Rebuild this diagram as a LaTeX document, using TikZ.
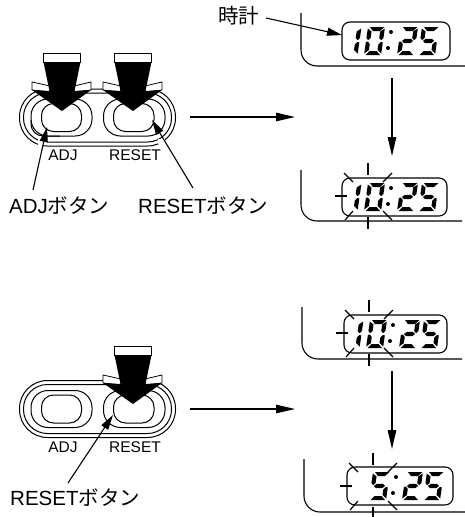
\documentclass[tikz,border=0pt]{standalone}
\usepackage{fontspec}
\setmainfont{Liberation Sans}
\newfontfamily\jpfont{Noto Sans CJK JP}
\usetikzlibrary{arrows.meta}
\tikzset{
  ln/.style={line width=1.1pt,black},
  disp/.style={draw,line width=1.1pt,rounded corners=8pt,inner sep=0pt,fill=white},
  lead/.style={line width=1.1pt,-{Triangle[length=15pt,width=8pt]}},
  flow/.style={line width=1.1pt,-{Triangle[length=19pt,width=8.5pt]}},
  biglabel/.style={inner sep=0pt,anchor=west,font=\fontsize{20.5}{24}\selectfont},
  smalllabel/.style={inner sep=0pt,font=\fontsize{15.5}{18}\selectfont},
  panelline/.style={line width=1pt}
}
% seven-segment parts (local frame: bottom-left origin, up is negative y)
\newcommand{\segA}{\fill (2,-28)--(16.5,-28)--(12.5,-24)--(5.5,-24)--cycle;}
\newcommand{\segB}{\fill (17,-26.5)--(17,-17)--(15,-14.8)--(12.8,-17)--(12.8,-23.5)--cycle;}
\newcommand{\segC}{\fill (17,-12.5)--(17,-1.5)--(12.8,-5)--(12.8,-10.5)--(15,-13)--cycle;}
\newcommand{\segD}{\fill (1.5,0)--(16,0)--(12,-4)--(5,-4)--cycle;}
\newcommand{\segE}{\fill (0,-13)--(2,-13.5)--(4.2,-11)--(4.2,-5)--(0,-1.5)--cycle;}
\newcommand{\segF}{\fill (0,-26.5)--(4.2,-23.5)--(4.2,-17)--(2,-14.8)--(0,-17)--cycle;}
\newcommand{\segG}{\fill (3,-14)--(5.5,-16.2)--(11.5,-16.2)--(14,-14)--(11.5,-11.8)--(5.5,-11.8)--cycle;}
\newcommand{\digitAt}[3]{\begin{scope}[shift={(#1,#2+28)},xslant=0.143]#3\end{scope}}
\newcommand{\digitOne}{\segB\segC}
\newcommand{\digitZero}{\segA\segB\segC\segD\segE\segF}
\newcommand{\digitTwo}{\segA\segB\segG\segE\segD}
\newcommand{\digitFive}{\segA\segF\segG\segC\segD}
% #1,#2 = display's left, top
\newcommand{\timeTen}[2]{%
  \digitAt{#1-1.5}{#2+5}{\digitOne}\digitAt{#1+22}{#2+5}{\digitZero}\timeRest{#1}{#2}}
\newcommand{\timeFive}[2]{%
  \digitAt{#1+22}{#2+5}{\digitFive}\timeRest{#1}{#2}}
\newcommand{\timeRest}[2]{%
  \fill (#1+49,#2+10) circle (2pt);
  \fill (#1+46,#2+26) circle (2pt);
  \digitAt{#1+55}{#2+5}{\digitTwo}\digitAt{#1+76}{#2+5}{\digitFive}}
% #1,#2 = centre of flashing rays
\newcommand{\raysAt}[2]{%
  \begin{scope}[shift={(#1,#2)},line width=1.2pt]
    \draw (0,-33)--(0,-21); \draw (0,21)--(0,33);
    \draw (-33,0)--(-21,0);
    \draw (-24,-23)--(-15,-14); \draw (24,-23)--(15,-14);
    \draw (-23,24)--(-15,15); \draw (24,24)--(15,15);
  \end{scope}}
% corner line: #1 x, #2 top y, #3 bottom y, #4 right x
\newcommand{\bezel}[4]{\draw[ln,rounded corners=16pt] (#1,#2)--(#1,#3)--(#4,#3);}
% control panel, #1 = centre y
\newcommand{\panelAt}[1]{%
  \begin{scope}[shift={(0,#1)},panelline]
    \draw[rounded corners=28pt] (19.5,-28.5) rectangle (175.5,28.5);
    \draw[rounded corners=24pt] (23.5,-24.5) rectangle (171.5,24.5);
    \draw[fill=white,rounded corners=17pt] (31,-18.5) rectangle (92,18.5);
    \draw[fill=white,rounded corners=17pt] (103.5,-18.5) rectangle (165,18.5);
    \draw[rounded corners=12pt] (41.5,-14) rectangle (81.5,14);
    \draw[rounded corners=12pt] (113.5,-14) rectangle (154,14);
  \end{scope}}
% press arrow, #1,#2 = tip
\newcommand{\pressAt}[2]{%
  \begin{scope}[shift={(#1,#2)},line width=0.8pt]
    \draw[fill=white] (-30,-29)--(-12,-25)--(-12,-19)--(-30,-21)--cycle;
    \draw[fill=white] (29,-29)--(12,-25)--(12,-19)--(29,-21)--cycle;
    \fill (-18.5,-49)--(18.5,-49)--(12.5,-20)--(29,-21)--(0,0)--(-30,-21)--(-12.5,-20)--cycle;
    \draw[fill=white] (-18.5,-58) rectangle (18.5,-49);
  \end{scope}}
\begin{document}
\begin{tikzpicture}[x=1pt,y=-1pt]
\useasboundingbox (0,0) rectangle (465,517);
\fill[white] (0,0) rectangle (465,517);

% panels
\panelAt{117.5}
\fill[white] (37.5,139) rectangle (43,149);
\fill[white] (43,139) rectangle (47,144);
\fill[white] (157.5,139) rectangle (165,144);
\draw[line width=1pt,rounded corners=12pt] (31,120) -- (31,136) -- (60,136);
\node[smalllabel] (adjA) at (63,155) {ADJ};
\node[smalllabel] (resetA) at (135,155) {RESET};
\pressAt{62}{111}
\pressAt{133}{111}

\panelAt{409}
\node[smalllabel] (adjB) at (63,447) {ADJ};
\node[smalllabel] (resetB) at (135,447) {RESET};
\pressAt{133}{404}

% texts
\node[biglabel] (lblAdj) at (9,206) {ADJ{\jpfont ボタン}};
\node[biglabel] (lblResetA) at (138,206) {RESET{\jpfont ボタン}};
\node[biglabel] (lblResetB) at (10,498) {RESET{\jpfont ボタン}};
\node[biglabel] (lblClock) at (218,16) {\jpfont 時計};

% displays
\bezel{301}{13}{66}{465}
\node[disp,minimum width=108pt,minimum height=38pt] (d1) at (396,41) {};
\timeTen{342}{22}

\bezel{301}{170}{221}{462}
\node[disp,minimum width=105pt,minimum height=38pt] (d2) at (394.5,197) {};
\timeTen{342}{178}
\raysAt{368}{196}

\bezel{302}{307}{359}{462}
\node[disp,minimum width=103pt,minimum height=38pt] (d3) at (395.5,334) {};
\timeTen{344}{315}
\raysAt{369}{333}

\bezel{304}{459}{512}{465}
\node[disp,minimum width=106pt,minimum height=38pt] (d4) at (400,486) {};
\timeFive{347}{467}
\raysAt{373}{486}

% connectors
\coordinate (adjTail) at (33,190);
\coordinate (adjTip) at (47,127);
\coordinate (resetTail) at (193,188);
\coordinate (resetTip) at (152,120);
\coordinate (resetBTail) at (68,483);
\coordinate (resetBTip) at (113,415);
\coordinate (clockTail) at (266,18);
\coordinate (clockTip) at (342,35);
\coordinate (flowAa) at (190,117);
\coordinate (flowAb) at (295,117);
\coordinate (flowBa) at (190,409);
\coordinate (flowBb) at (295,409);
\coordinate (downAa) at (392,78);
\coordinate (downAb) at (392,156);
\coordinate (downBa) at (392,371);
\coordinate (downBb) at (392,449);
\draw[lead] (adjTail) -- (adjTip);
\draw[lead] (resetTail) -- (resetTip);
\draw[lead] (resetBTail) -- (resetBTip);
\draw[lead] (clockTail) -- (clockTip);
\draw[flow] (flowAa) -- (flowAb);
\draw[flow] (flowBa) -- (flowBb);
\draw[flow] (downAa) -- (downAb);
\draw[flow] (downBa) -- (downBb);
\end{tikzpicture}
\end{document}
